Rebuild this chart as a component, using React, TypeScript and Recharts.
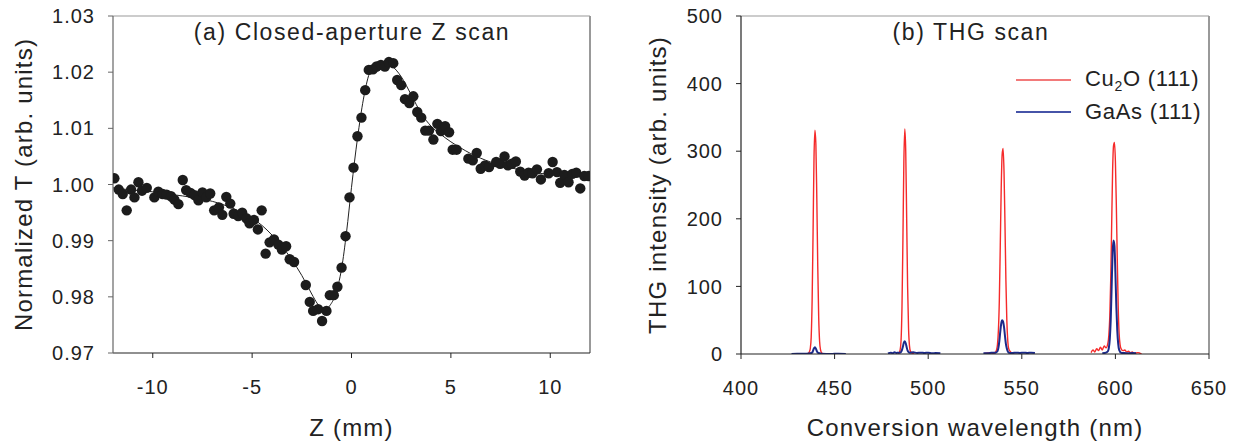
import React from 'react';
import { ComposedChart, Line, Scatter, XAxis, YAxis, ZAxis, ReferenceLine, Legend } from 'recharts';

const FONT = '"Liberation Sans", Arial, Helvetica, sans-serif';

// ---------- Panel (a): closed-aperture Z scan ----------
const zScanZ = [
  -11.93, -11.71, -11.51, -11.31, -11.09, -10.92, -10.72, -10.54, -10.3, -9.92, -9.72, -9.5, -9.3, -9.08,
  -8.91, -8.71, -8.49, -8.32, -8.1, -7.9, -7.7, -7.5, -7.31, -7.11, -6.91, -6.67, -6.5, -6.3, -6.1, -5.93,
  -5.7, -5.5, -5.29, -5.13, -4.91, -4.71, -4.52, -4.32, -4.12, -3.9, -3.68, -3.5, -3.29, -3.11, -2.89,
  -2.3, -2.1, -1.93, -1.68, -1.48, -1.26, -1.09, -0.89, -0.71, -0.5, -0.3, -0.1, 0.1, 0.3, 0.5, 0.69,
  0.87, 1.08, 1.26, 1.48, 1.68, 1.88, 2.1, 2.3, 2.5, 2.69, 2.91, 3.11, 3.31, 3.51, 3.71, 3.9, 4.12, 4.32,
  4.5, 4.71, 4.91, 5.09, 5.29, 5.88, 6.1, 6.3, 6.5, 6.72, 6.92, 7.28, 7.48, 7.7, 7.87, 8.07, 8.27, 8.49,
  8.71, 8.91, 9.11, 9.33, 9.53, 9.92, 10.12, 10.34, 10.5, 10.71, 10.92, 11.11, 11.31, 11.51, 11.71, 11.93,
];
const zScanT = [
  1.0011, 0.9991, 0.9983, 0.9954, 0.9991, 0.9977, 1.0004, 0.9989, 0.9994, 0.9977, 0.9987, 0.9983, 0.9982, 0.9979,
  0.9973, 0.9965, 1.0008, 0.999, 0.9985, 0.9981, 0.9972, 0.9986, 0.9977, 0.9984, 0.9954, 0.9959, 0.9946, 0.9978, 0.9966, 0.9948,
  0.9944, 0.995, 0.994, 0.9931, 0.9937, 0.992, 0.9954, 0.9877, 0.9897, 0.9902, 0.9893, 0.9884, 0.989, 0.9867, 0.9862,
  0.9821, 0.9791, 0.9775, 0.9778, 0.9757, 0.9775, 0.9803, 0.9803, 0.9818, 0.9852, 0.9908, 0.9977, 1.003, 1.0086, 1.0119, 1.0168,
  1.0204, 1.0205, 1.021, 1.0213, 1.021, 1.0218, 1.0216, 1.0186, 1.0177, 1.0152, 1.0145, 1.0157, 1.0129, 1.0119, 1.0096, 1.0096, 1.008, 1.0108,
  1.0095, 1.0104, 1.0093, 1.0062, 1.0062, 1.0046, 1.0043, 1.0056, 1.0028, 1.0034, 1.0031, 1.004, 1.0037, 1.005, 1.0034, 1.0037, 1.0041, 1.0023,
  1.0016, 1.0021, 1.002, 1.0027, 1.0009, 1.002, 1.004, 1.0022, 1.0003, 1.0017, 1.0004, 1.0019, 1.0021, 0.9993, 1.0015, 1.0015,
];
const fitZ = [
  -12, -11, -10, -9, -8, -7, -6, -5, -4.5, -4, -3.5, -3, -2.5, -2, -1.7, -1.4, -1.1, -0.8, -0.5, -0.25, 0,
  0.3, 0.6, 0.9, 1.2, 1.6, 2, 2.5, 3, 3.5, 4, 4.5, 5, 5.5, 6, 7, 8, 9, 10, 11, 12,
];
const fitT = [
  0.9994, 0.999, 0.9987, 0.9982, 0.9977, 0.997, 0.9958, 0.994, 0.9927, 0.991, 0.989, 0.9866, 0.9838, 0.9805, 0.9787, 0.9776, 0.9784, 0.9805, 0.985, 0.9915, 0.9995,
  1.0082, 1.0152, 1.0198, 1.0213, 1.0218, 1.0212, 1.0192, 1.016, 1.0127, 1.0104, 1.0089, 1.0076, 1.0065, 1.0055, 1.004, 1.003, 1.0022, 1.0018, 1.0015, 1.0013,
];
const zTicks = [-10, -5, 0, 5, 10];
const tTicks = [0.97, 0.98, 0.99, 1.0, 1.01, 1.02, 1.03];

// ---------- Panel (b): THG scan ----------
const cuPeak1 = [[436, 1], [436.5, 3], [437, 8], [437.5, 25], [438, 80], [438.5, 180], [439, 290], [439.5, 331], [440, 310], [440.5, 230], [441, 130], [441.5, 55], [442, 18], [442.5, 6], [443, 2], [444, 0]];
const cuPeak2 = [[484, 0], [484.5, 2], [485, 6], [485.5, 20], [486, 70], [486.5, 170], [487, 285], [487.5, 333], [488, 300], [488.5, 200], [489, 100], [489.5, 38], [490, 12], [490.5, 4], [491.5, 1], [492.5, 0]];
const cuPeak3 = [[530, 1], [533, 2], [535, 1], [536, 3], [536.5, 6], [537, 14], [537.5, 35], [538, 80], [538.5, 160], [539, 245], [539.5, 295], [540, 304], [540.5, 270], [541, 195], [541.5, 110], [542, 50], [542.5, 20], [543, 8], [544, 3], [545, 1], [546, 0]];
const cuPeak4 = [[587, 2], [588, 6], [589, 3], [590, 8], [591, 5], [592, 10], [593, 6], [594, 12], [595, 9], [596, 16], [596.5, 28], [597, 55], [597.5, 110], [598, 190], [598.5, 270], [599, 308], [599.5, 313], [600, 285], [600.5, 220], [601, 140], [601.5, 70], [602, 30], [602.5, 14], [603, 8], [604, 5], [605, 6], [606, 3], [607, 4], [608, 2], [609, 3], [610, 1], [612, 2], [614, 0]];

const gaPeak1 = [[427, 0], [430, 0.5], [435, 0.5], [437, 1], [438, 2], [438.5, 5], [439, 8.5], [439.5, 10], [440, 8], [440.5, 4.5], [441, 2], [443, 0.5], [448, 0], [452, 0.5], [456, 0]];
const gaPeak2 = [[478.5, 1], [480, 2], [481, 1], [482, 2.5], [483, 1.5], [484, 2], [485, 2], [485.5, 3], [486, 6], [486.5, 11], [487, 17], [487.5, 19], [488, 16], [488.5, 10], [489, 5], [489.5, 3], [490, 2], [492, 2.5], [494, 1.5], [496, 2], [498, 1.5], [500, 2], [502, 1], [504, 1.5], [506.5, 1]];
const gaPeak3 = [[529.5, 1], [531, 1], [533, 1.5], [535, 2], [536, 2], [537, 4], [537.5, 9], [538, 19], [538.5, 33], [539, 45], [539.5, 50], [540, 48], [540.5, 40], [541, 27], [541.5, 15], [542, 8], [542.5, 4], [543, 2], [545, 1.5], [547, 2], [549, 1.5], [551, 2], [553, 1.5], [555, 2], [557, 1.5]];
const gaPeak4 = [[593, 1], [595, 2], [596, 4], [596.5, 9], [597, 22], [597.5, 50], [598, 100], [598.5, 150], [599, 168], [599.5, 160], [600, 120], [600.5, 70], [601, 35], [601.5, 15], [602, 6], [603, 2], [605, 1.5], [607, 1], [609, 1.5], [611, 1]];

const wlTicks = [400, 450, 500, 550, 600, 650];
const intTicks = [0, 100, 200, 300, 400, 500];
const legendItems = [
  { key: 'cu', main: 'Cu', sub: '2', rest: 'O (111)', color: '#f27a7a' },
  { key: 'ga', main: 'GaAs (111)', sub: '', rest: '', color: '#4654a8' },
];

const zPoints = zScanZ.map((z, i) => ({ z, t: zScanT[i] }));
const zFit = fitZ.map((z, i) => ({ z, t: fitT[i] }));

function joinSegments(segs: number[][][]) {
  const out: { wl: number; v: number | null }[] = [];
  segs.forEach((s, i) => {
    if (i > 0) {
      const prev = segs[i - 1];
      out.push({ wl: (prev[prev.length - 1][0] + s[0][0]) / 2, v: null });
    }
    s.forEach(([wl, v]) => out.push({ wl, v }));
  });
  return out;
}
const cuData = joinSegments([cuPeak1, cuPeak2, cuPeak3, cuPeak4]);
const gaData = joinSegments([gaPeak1, gaPeak2, gaPeak3, gaPeak4]);

const tickStyle = { fill: '#222', fontSize: 20, fontFamily: FONT, letterSpacing: 1 };
const labelStyle = { fill: '#222', fontSize: 24, fontFamily: FONT, letterSpacing: 1.2 };

const LegendContent = () => (
  <div style={{ fontFamily: FONT, fontSize: 22, color: '#222', letterSpacing: 0.7 }}>
    {legendItems.map((it) => (
      <div key={it.key} style={{ display: 'flex', alignItems: 'center', height: 32 }}>
        <div style={{ width: 55, height: 2, background: it.color, marginRight: 14 }} />
        <span style={{ whiteSpace: 'nowrap' }}>
          {it.main}
          {it.sub ? <sub style={{ fontSize: 14 }}>{it.sub}</sub> : null}
          {it.rest}
        </span>
      </div>
    ))}
  </div>
);

const titleStyle: React.CSSProperties = {
  position: 'absolute', top: 19, width: 400, textAlign: 'center', fontFamily: FONT,
  fontSize: 23, lineHeight: '26px', letterSpacing: 1.6, color: '#222',
};

export default function App() {
  return (
    <div style={{ position: 'absolute', left: 0, top: 0, width: 1255, height: 441, background: '#fff' }}>
      <div style={{ position: 'absolute', left: 0, top: 0 }}>
        <ComposedChart width={627} height={441} margin={{ top: 16, right: 37, bottom: 0, left: 43 }}>
          <XAxis
            dataKey="z" type="number" domain={[-12, 12]} ticks={zTicks} allowDataOverflow height={88}
            tickSize={5} tickMargin={22} axisLine={{ stroke: '#222', strokeWidth: 1.2 }} tickLine={{ stroke: '#222' }}
            tick={tickStyle}
            label={{ value: 'Z (mm)', position: 'center', dy: 30, style: labelStyle }}
          />
          <YAxis
            dataKey="t" type="number" domain={[0.97, 1.03]} ticks={tTicks} allowDataOverflow width={70}
            tickFormatter={(v: number) => v.toFixed(2)} tickSize={5} tickMargin={13}
            axisLine={{ stroke: '#666', strokeWidth: 1.2 }} tickLine={{ stroke: '#666' }} tick={tickStyle}
            label={{ value: 'Normalized T (arb. units)', angle: -90, position: 'center', dx: -55, style: labelStyle }}
          />
          <ZAxis range={[85, 85]} />
          <ReferenceLine y={1.03} stroke="#999" strokeWidth={1.2} />
          <ReferenceLine x={12} stroke="#999" strokeWidth={2} />
          <Line data={zFit} dataKey="t" type="monotone" stroke="#222" strokeWidth={1} dot={false} isAnimationActive={false} />
          <Scatter data={zPoints} dataKey="t" fill="#1c1c1c" isAnimationActive={false} />
        </ComposedChart>
      </div>
      <div style={{ position: 'absolute', left: 627, top: 0 }}>
        <ComposedChart width={628} height={441} margin={{ top: 16, right: 46, bottom: 0, left: 44 }}>
          <XAxis
            dataKey="wl" type="number" domain={[400, 650]} ticks={wlTicks} allowDataOverflow height={87}
            tickSize={5} tickMargin={22} axisLine={{ stroke: '#222', strokeWidth: 1.2 }} tickLine={{ stroke: '#222' }}
            tick={tickStyle}
            label={{ value: 'Conversion wavelength (nm)', position: 'center', dy: 30, style: labelStyle }}
          />
          <YAxis
            dataKey="v" type="number" domain={[0, 500]} ticks={intTicks} allowDataOverflow width={70}
            tickSize={5} tickMargin={13}
            axisLine={{ stroke: '#222', strokeWidth: 1.2 }} tickLine={{ stroke: '#222' }} tick={tickStyle}
            label={{ value: 'THG intensity (arb. units)', angle: -90, position: 'center', dx: -49, style: labelStyle }}
          />
          <ReferenceLine y={500} stroke="#999" strokeWidth={1.2} />
          <ReferenceLine x={650} stroke="#999" strokeWidth={2} />
          <Legend
            layout="horizontal" verticalAlign="middle" align="center"
            wrapperStyle={{ top: 64, left: 389, width: 250 }}
            content={<LegendContent />}
          />
          <Line data={cuData} dataKey="v" name="Cu2O (111)" type="monotone" stroke="#f52a2a" strokeWidth={1.4} dot={false} isAnimationActive={false} />
          <Line data={gaData} dataKey="v" name="GaAs (111)" type="monotone" stroke="#1c2a8a" strokeWidth={2} dot={false} isAnimationActive={false} />
        </ComposedChart>
      </div>
      <div style={{ ...titleStyle, left: 152 }}>(a) Closed-aperture Z scan</div>
      <div style={{ ...titleStyle, left: 771 }}>(b) THG scan</div>
    </div>
  );
}
